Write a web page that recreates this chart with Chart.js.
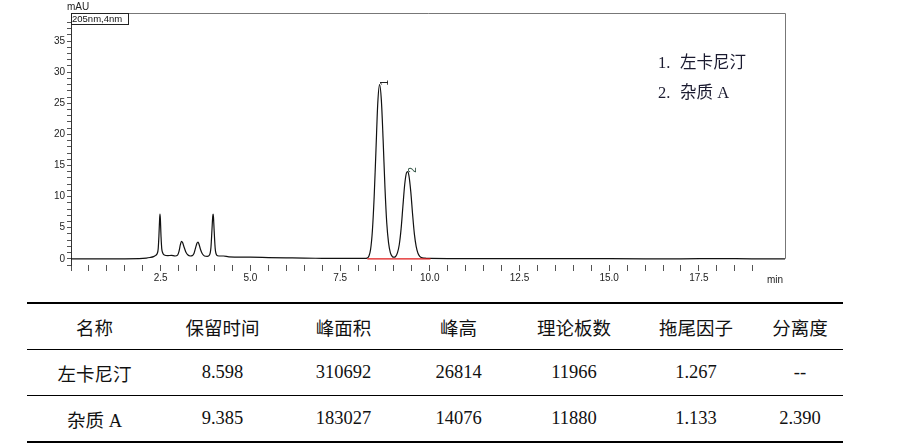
<!DOCTYPE html>
<html lang="zh-CN">
<head>
<meta charset="utf-8">
<script src="https://cdn.jsdelivr.net/npm/chart.js@4.4.1/dist/chart.umd.min.js"></script>
<style>
  @font-face { font-family: "CnText"; src: local("Noto Sans CJK SC"), local("NotoSansCJKsc-Regular"); }
  body { margin: 0; width: 900px; height: 443px; background: #fff; position: relative; overflow: hidden; }
  #wrap { position: absolute; left: 0; top: 0; width: 900px; height: 292px; }
  .legend { position: absolute; left: 658px; font: 16.5px "Liberation Serif", "Noto Sans CJK SC", serif; color: #1b1b30; }
  .legend span { display: inline-block; width: 22px; }
  table { position: absolute; left: 27px; top: 302px; border-collapse: collapse; table-layout: fixed;
          font: 18.5px "Liberation Serif", "Noto Sans CJK SC", serif; color: #111; }
  td { height: 45px; padding: 0; text-align: center; vertical-align: middle; color: #111; }
  td span.cn { font-family: "Noto Sans CJK SC", "CnText", sans-serif; color: #111; }
  tr.head td { border-top: 2px solid #000; border-bottom: 1px solid #000; }
  tr.mid td { border-bottom: 1px solid #000; }
  tr.last td { border-bottom: 2px solid #000; }
</style>
</head>
<body>
<div id="wrap"><canvas id="canvas" width="900" height="292"></canvas></div>
<div class="legend" style="top:49px"><span>1.</span>左卡尼汀</div>
<div class="legend" style="top:79px"><span>2.</span>杂质 A</div>
<table id="tbl"></table>
<script>
// chromatogram trace (min, mAU)
var timeMin = [0, 0.5, 1.0, 1.5, 1.9, 2.1, 2.2, 2.3, 2.36, 2.40, 2.43, 2.45, 2.47, 2.48, 2.49, 2.51, 2.53, 2.56, 2.60,
  2.70, 2.80, 2.90, 2.97, 3.01, 3.05, 3.08, 3.11, 3.15, 3.20, 3.26, 3.32, 3.38, 3.43, 3.47, 3.51, 3.54, 3.57, 3.61,
  3.66, 3.72, 3.80, 3.86, 3.90, 3.93, 3.95, 3.96, 3.97, 3.99, 4.02, 4.06, 4.12, 4.25, 4.40, 4.60, 5.0, 5.5, 6.0,
  6.5, 7.0, 7.5, 8.0, 8.20, 8.25, 8.30, 8.35, 8.40, 8.45, 8.50, 8.55, 8.60, 8.65, 8.70, 8.75, 8.80, 8.85, 8.90,
  8.95, 9.00, 9.05, 9.10, 9.15, 9.20, 9.25, 9.30, 9.35, 9.385, 9.42, 9.47, 9.52, 9.57, 9.62, 9.67, 9.72, 9.80,
  9.90, 10.0, 10.5, 11.0, 12.0, 13.0, 14.0, 15.0, 16.0, 17.0, 18.0, 19.0, 19.9];
var signal = [0, 0, 0, 0, 0.02, 0.1, 0.2, 0.35, 0.55, 0.8, 1.6, 3.6, 6.4, 7.2, 6.5, 3.5, 1.6, 0.9, 0.6,
  0.5, 0.55, 0.45, 0.6, 1.2, 2.3, 2.8, 2.6, 1.9, 1.1, 0.6, 0.45, 0.5, 0.9, 1.7, 2.5, 2.7, 2.3, 1.5,
  0.8, 0.45, 0.4, 0.6, 1.8, 4.8, 6.8, 7.2, 6.8, 4.5, 1.6, 0.6, 0.45, 0.45, 0.3, 0.28, 0.25, 0.2, 0.15,
  0.1, 0.08, 0.06, 0.05, 0.05, 0.1, 0.4, 1.5, 4.5, 10.0, 17.5, 25.0, 28.0, 25.5, 19.0, 11.5, 5.8, 2.6, 1.0,
  0.4, 0.25, 0.4, 1.0, 2.3, 4.8, 8.4, 11.9, 13.8, 14.0, 13.3, 10.8, 7.2, 4.0, 2.0, 0.9, 0.4, 0.15,
  0.08, 0.05, 0.03, 0.03, 0.02, 0.03, 0.02, 0.01, 0, 0, 0.02, 0, 0];

// integration baseline under the two main peaks
var baseTime = [8.26, 10.02];
var baseLevel = [0, 0];

var peakNo = ['1', '2'];
var peakTime = [8.598, 9.385];
var peakTop = [28.0, 14.0];

var yTicks = [0, 5, 10, 15, 20, 25, 30, 35];
var xTicks = [2.5, 5.0, 7.5, 10.0, 12.5, 15.0, 17.5];

// table below the chart
var tblHead = ['名称', '保留时间', '峰面积', '峰高', '理论板数', '拖尾因子', '分离度'];
var tblRow1 = ['左卡尼汀', '8.598', '310692', '26814', '11966', '1.267', '--'];
var tblRow2 = ['杂质 A', '9.385', '183027', '14076', '11880', '1.133', '2.390'];
var colW = [135, 121, 121, 109, 122, 122, 86];

function zip(xs, ys) {
  return xs.map(function (x, i) { return { x: x, y: ys[i] }; });
}

var tbl = document.getElementById('tbl');
[[tblHead, 'head'], [tblRow1, 'mid'], [tblRow2, 'last']].forEach(function (r) {
  var tr = document.createElement('tr');
  tr.className = r[1];
  r[0].forEach(function (t, i) {
    var td = document.createElement('td');
    td.style.width = colW[i] + 'px';
    if (r[1] === 'head') {
      var sp = document.createElement('span');
      sp.className = 'cn';
      sp.textContent = t;
      td.appendChild(sp);
    } else {
      td.textContent = t;
    }
    tr.appendChild(td);
  });
  tbl.appendChild(tr);
});

var decor = {
  id: 'decor',
  afterDatasetsDraw: function (chart) {
    var c = chart.ctx, a = chart.chartArea, sx = chart.scales.x, sy = chart.scales.y;
    c.save();
    // frame top + right
    c.strokeStyle = '#777';
    c.lineWidth = 1;
    c.beginPath();
    c.moveTo(a.left, a.top + 0.5);
    c.lineTo(a.right + 0.5, a.top + 0.5);
    c.lineTo(a.right + 0.5, sy.getPixelForValue(0));
    c.stroke();
    // axis units
    c.fillStyle = '#222';
    c.font = '10px "Liberation Sans"';
    c.textBaseline = 'middle';
    c.fillText('mAU', 67, 7);
    c.fillText('min', 767, 280);
    // wavelength box
    c.fillStyle = '#fff';
    c.fillRect(a.left, a.top, 57, 11);
    c.strokeStyle = '#222';
    c.strokeRect(a.left + 0.5, a.top + 0.5, 57, 11);
    c.fillStyle = '#111';
    c.font = '9.5px "Liberation Sans"';
    c.fillText('205nm,4nm', a.left + 1, a.top + 6);
    // peak numbers
    c.font = '10px "Liberation Sans"';
    peakNo.forEach(function (n, i) {
      c.save();
      c.translate(sx.getPixelForValue(peakTime[i]) + 6, sy.getPixelForValue(peakTop[i]) + 1);
      c.rotate(-Math.PI / 2);
      c.fillStyle = i === 0 ? '#222' : '#2d4f3f';
      c.textAlign = 'left';
      c.fillText(n, 0, 0);
      c.restore();
    });
    c.restore();
  }
};

var ctx = document.getElementById('canvas').getContext('2d');
var chart = new Chart(ctx, {
  type: 'line',
  data: {
    datasets: [{
      label: 'baseline',
      data: zip(baseTime, baseLevel),
      borderColor: '#e01818',
      borderWidth: 1.2,
      pointRadius: 0,
      order: 0
    },
    {
      label: 'signal',
      data: zip(timeMin, signal),
      borderColor: '#111',
      borderWidth: 1.2,
      pointRadius: 0,
      cubicInterpolationMode: 'monotone',
      order: 1
    }]
  },
  options: {
    responsive: false,
    animation: false,
    events: [],
    layout: { padding: { top: 13, right: 115, left: 0, bottom: 0 } },
    plugins: { legend: { display: false }, tooltip: { enabled: false } },
    scales: {
      x: {
        type: 'linear',
        min: 0,
        max: 19.9,
        afterFit: function (s) { s.height = 27; },
        afterBuildTicks: function (s) {
          s.ticks = s.ticks.filter(function (t) { return Math.abs(t.value * 2 - Math.round(t.value * 2)) < 1e-6; });
        },
        ticks: {
          stepSize: 0.5,
          autoSkip: false,
          maxRotation: 0,
          padding: 1,
          color: '#222',
          font: { family: 'Liberation Sans', size: 10 },
          callback: function (v) {
            var hit = xTicks.filter(function (t) { return Math.abs(t - v) < 1e-6; });
            return hit.length ? hit[0].toFixed(1) : '';
          }
        },
        grid: { drawOnChartArea: false, tickLength: 6, color: '#555' },
        border: { display: false }
      },
      y: {
        min: -1,
        max: 39.5,
        afterFit: function (s) { s.width = 71; },
        afterBuildTicks: function (s) {
          s.ticks = s.ticks.filter(function (t) { return Math.abs(t.value - Math.round(t.value)) < 1e-6; });
        },
        ticks: {
          stepSize: 1,
          autoSkip: false,
          padding: 2,
          color: '#222',
          font: { family: 'Liberation Sans', size: 10 },
          callback: function (v) { return yTicks.indexOf(v) >= 0 ? String(v) : ''; }
        },
        grid: { drawOnChartArea: false, tickLength: 4, color: '#555' },
        border: { display: true, color: '#333', width: 1 }
      }
    }
  },
  plugins: [decor]
});
</script>
</body>
</html>
